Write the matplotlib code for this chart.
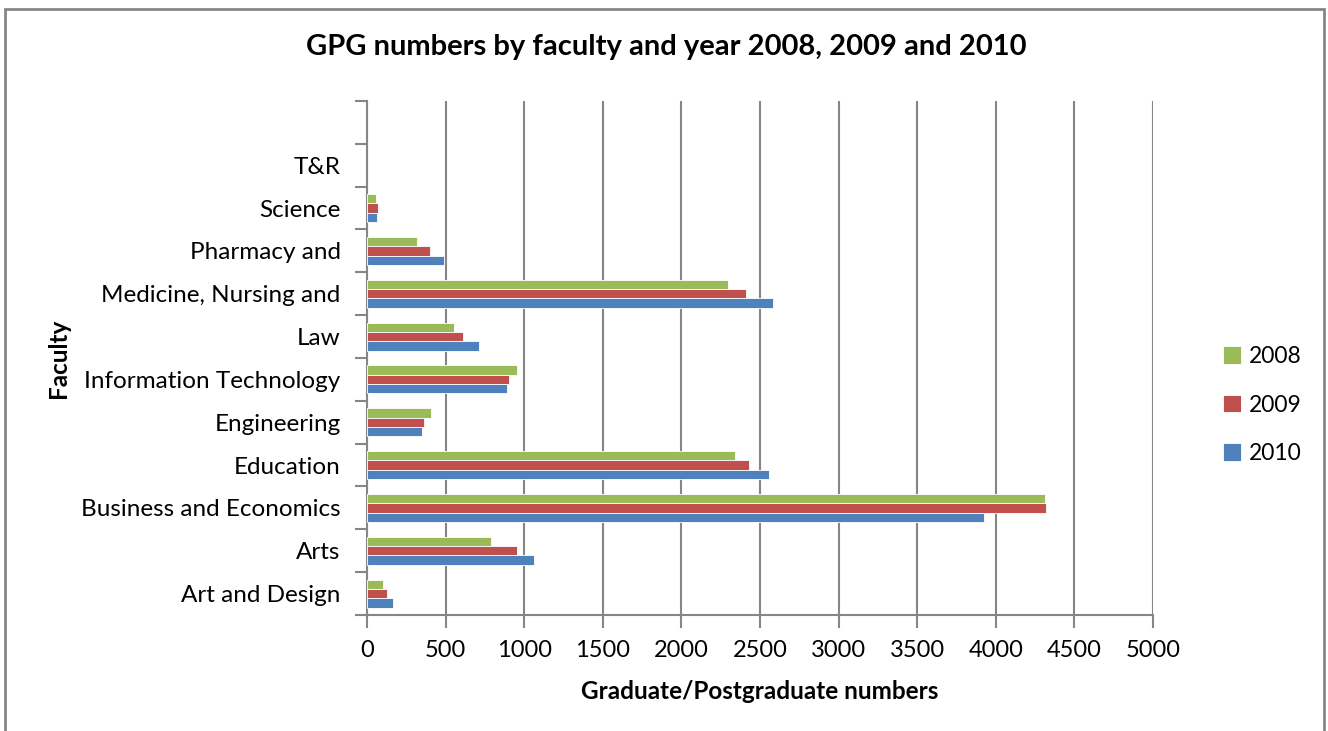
import numpy as np
import matplotlib.pyplot as plt
from matplotlib.patches import Rectangle

faculties = ["Art and Design", "Arts", "Business and Economics", "Education",
             "Engineering", "Information Technology", "Law",
             "Medicine, Nursing and", "Pharmacy and", "Science", "T&R", ""]
years = ["2008", "2009", "2010"]
gpg_2008 = [100, 790, 4310, 2340, 410, 955, 552, 2296, 317, 55, 0, 0]
gpg_2009 = [130, 957, 4318, 2428, 365, 902, 611, 2411, 400, 68, 0, 0]
gpg_2010 = [163, 1060, 3926, 2555, 348, 891, 715, 2585, 489, 64, 0, 0]
xticks = [0, 500, 1000, 1500, 2000, 2500, 3000, 3500, 4000, 4500, 5000]

colors = {"2008": "#9BBB59", "2009": "#C0504D", "2010": "#4F81BD"}
grid_c = "#868686"
plt.rcParams['font.family'] = ['Lato', 'DejaVu Sans']

fig = plt.figure(figsize=(13.28, 7.31), dpi=100)
ax = fig.add_axes([367/1328, 1 - 615/731, (1153-367)/1328, (615-101)/731])

y = np.arange(len(faculties))
h = 0.218
series = [("2008", gpg_2008, h), ("2009", gpg_2009, 0), ("2010", gpg_2010, -h)]
for name, vals, off in series:
    lw = [0.6 if v > 0 else 0 for v in vals]
    ax.barh(y + off, vals, height=h, color=colors[name], edgecolor="white",
            linewidth=lw, zorder=3, label=name)

ax.set_xlim(0, 5000)
ax.set_ylim(-0.5, len(faculties) - 0.5)
ax.set_xticks(xticks)
ax.set_xticklabels([str(t) for t in xticks], fontsize=17)
# group boundaries get the tick marks, category centres get the labels
ax.set_yticks(np.arange(len(faculties) + 1) - 0.5, minor=False)
ax.set_yticklabels([])
ax.set_yticks(y, minor=True)
ax.set_yticklabels(faculties, minor=True, fontsize=17.5)
ax.tick_params(axis='y', which='minor', length=0, pad=19)
ax.tick_params(axis='y', which='major', length=9, width=1.5, color=grid_c)
ax.tick_params(axis='x', length=9, width=1.5, color=grid_c, pad=9)

ax.grid(axis='x', color=grid_c, linewidth=1.5, zorder=0)
ax.set_axisbelow(True)
for s in ["top", "right"]:
    ax.spines[s].set_visible(False)
for s in ["left", "bottom"]:
    ax.spines[s].set_color(grid_c)
    ax.spines[s].set_linewidth(1.5)

ax.set_xlabel("Graduate/Postgraduate numbers", fontsize=17.5, fontweight="bold", labelpad=14)
ax.set_ylabel("Faculty", fontsize=17.5, fontweight="bold")
ax.yaxis.set_label_coords(-(367-70)/786, 0.5)

fig.suptitle("GPG numbers by faculty and year 2008, 2009 and 2010", x=666/1328,
             y=1 - 47/731, va="center", fontsize=21, fontweight="bold")

handles, labels = ax.get_legend_handles_labels()
fig.legend(handles, labels, loc="center left", bbox_to_anchor=(1202/1328, 1 - 405/731),
           frameon=False, fontsize=16.5, handlelength=0.8, handleheight=0.8,
           labelspacing=1.2, handletextpad=0.35)

fig.add_artist(Rectangle((5/1328, -0.05), (1324-5)/1328, 1.05 - 9/731,
                         transform=fig.transFigure, fill=False,
                         edgecolor=grid_c, linewidth=2))

fig.savefig("out.png", dpi=100)
